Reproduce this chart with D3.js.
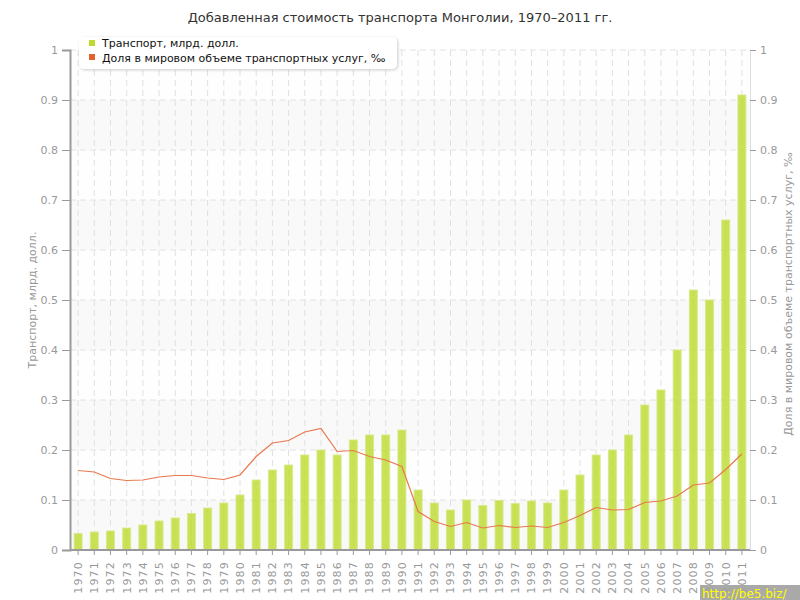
<!DOCTYPE html>
<html><head><meta charset="utf-8">
<script src="https://cdn.jsdelivr.net/npm/d3@7"></script>
<style>body{margin:0;background:#fff}text{font-family:"DejaVu Sans",Verdana,sans-serif}</style>
</head><body><svg id="c" width="800" height="600"></svg>
<script>
const years = d3.range(1970, 2012).map(String);
const transport = [0.033,0.036,0.038,0.044,0.05,0.058,0.064,0.073,0.084,0.094,0.11,0.14,0.16,0.17,0.19,0.2,0.19,0.22,0.23,0.23,0.24,0.12,0.094,0.08,0.1,0.089,0.099,0.093,0.098,0.094,0.12,0.15,0.19,0.2,0.23,0.29,0.32,0.4,0.52,0.5,0.66,0.91];
const share = [0.159,0.156,0.143,0.139,0.14,0.146,0.149,0.149,0.144,0.141,0.15,0.187,0.214,0.219,0.236,0.243,0.197,0.199,0.187,0.18,0.167,0.077,0.057,0.047,0.055,0.044,0.049,0.045,0.048,0.045,0.055,0.069,0.085,0.08,0.081,0.095,0.098,0.108,0.13,0.134,0.161,0.192];
const yTicks = [0,0.1,0.2,0.3,0.4,0.5,0.6,0.7,0.8,0.9,1];
const title = "Добавленная стоимость транспорта Монголии, 1970–2011 гг.";
const seriesNames = ["Транспорт, млрд. долл.", "Доля в мировом объеме транспортных услуг, ‰"];
const leftLabel = "Транспорт, млрд. долл.";
const rightLabel = "Доля в мировом объеме транспортных услуг, ‰";

const svg = d3.select("#c");
const L = 70, R = 750, T = 50, B = 550;
const x = d3.scaleBand().domain(years).range([L, R]);
const yL = d3.scaleLinear().domain([0,1]).range([B, T]);
const yR = d3.scaleLinear().domain([0,1]).range([B, T]);

// bands
const bands = d3.range(0, 10);
svg.append("g").selectAll("rect").data(bands).join("rect")
  .attr("x", L).attr("width", R - L)
  .attr("y", i => yL((i+1)/10)).attr("height", i => yL(i/10) - yL((i+1)/10))
  .attr("fill", i => i % 2 === 0 ? "#f9f9f9" : "#fefefe");

// grid
const grid = svg.append("g");
grid.selectAll("line.h").data(yTicks.slice(1)).join("line")
  .attr("x1", L).attr("x2", R).attr("y1", d => yL(d)).attr("y2", d => yL(d))
  .attr("stroke", "#e2e2e2").attr("stroke-dasharray", "6,4");
grid.selectAll("line.v").data(years).join("line")
  .attr("x1", d => x(d) + x.bandwidth()/2).attr("x2", d => x(d) + x.bandwidth()/2)
  .attr("y1", T).attr("y2", B)
  .attr("stroke", "#e0e0e0").attr("stroke-dasharray", "6,4");

// bars
svg.append("g").selectAll("rect").data(years).join("rect")
  .attr("x", d => x(d) + x.bandwidth()/2 - 4).attr("width", 8)
  .attr("y", (d,i) => yL(transport[i])).attr("height", (d,i) => B - yL(transport[i]))
  .attr("fill", "#bcdb2c").attr("fill-opacity", 0.8)
  .attr("stroke", "#d6ea8a").attr("stroke-width", 1).attr("stroke-opacity", 0.9);

// line
const line = d3.line().x((d,i) => x(years[i]) + x.bandwidth()/2).y(d => yR(d));
svg.append("path").datum(share).attr("d", line)
  .attr("fill", "none").attr("stroke", "#e8784e").attr("stroke-width", 1.2);

// axes
const axL = svg.append("g").attr("transform", `translate(${L},0)`)
  .call(d3.axisLeft(yL).tickValues(yTicks).tickSize(8).tickPadding(4).tickFormat(d3.format("")));
const axR = svg.append("g").attr("transform", `translate(${R},0)`)
  .call(d3.axisRight(yR).tickValues(yTicks).tickSize(6).tickPadding(4).tickFormat(d3.format("")));
const axB = svg.append("g").attr("transform", `translate(0,${B})`)
  .call(d3.axisBottom(x).tickSize(5).tickSizeOuter(0));
[axL, axR, axB].forEach(a => {
  a.selectAll("path,line").attr("stroke", "#9a9a9a");
  a.selectAll("text").attr("fill", "#999").style("font-size", "11px").style("font-family", "DejaVu Sans");
});
axL.select("path.domain").attr("stroke-width", 2);
axR.select("path.domain").attr("stroke", "#ddd");
axB.select("path.domain").attr("stroke-width", 2).attr("d", `M${L},0H${R}`);
axB.selectAll("text").attr("transform", "rotate(-90)").attr("text-anchor", "end")
  .attr("x", -11).attr("y", 0).attr("dy", "0.35em").style("letter-spacing", "1.2px");

// title
svg.append("text").attr("x", 400).attr("y", 22).attr("text-anchor", "middle")
  .attr("fill", "#333").style("font-size", "13px").text(title);

// axis labels
svg.append("text").attr("transform", `translate(36,300) rotate(-90)`).attr("text-anchor", "middle")
  .attr("fill", "#999").style("font-size", "11px").text(leftLabel);
svg.append("text").attr("transform", `translate(792,294) rotate(-90)`).attr("text-anchor", "middle")
  .attr("fill", "#999").style("font-size", "11px").text(rightLabel);

// legend
const defs = svg.append("defs");
const f = defs.append("filter").attr("id", "sh").attr("x", "-10%").attr("y", "-30%").attr("width", "120%").attr("height", "160%");
f.append("feDropShadow").attr("dx", 1).attr("dy", 1).attr("stdDeviation", 1.5).attr("flood-color", "#000").attr("flood-opacity", 0.2);
const lg = svg.append("g");
lg.append("rect").attr("x", 79).attr("y", 37).attr("width", 318).attr("height", 32).attr("rx", 5)
  .attr("fill", "#fff").attr("filter", "url(#sh)");
const colors = ["#bcdb2c", "#e2622c"];
seriesNames.forEach((n, i) => {
  lg.append("rect").attr("x", 89).attr("y", 40 + i*14).attr("width", 6).attr("height", 6).attr("fill", colors[i]);
  lg.append("text").attr("x", 102).attr("y", 47 + i*14.5).attr("fill", "#111").style("font-size", "11px").text(n);
});

// watermark
const wm = svg.append("g");
wm.append("rect").attr("x", 700).attr("y", 585).attr("width", 100).attr("height", 15).attr("fill", "#a0a0a0").attr("opacity", 0.9);
wm.append("text").attr("x", 702).attr("y", 598).attr("fill", "#ffff00").style("font-size", "12px").text("http://be5.biz/");
</script></body></html>
